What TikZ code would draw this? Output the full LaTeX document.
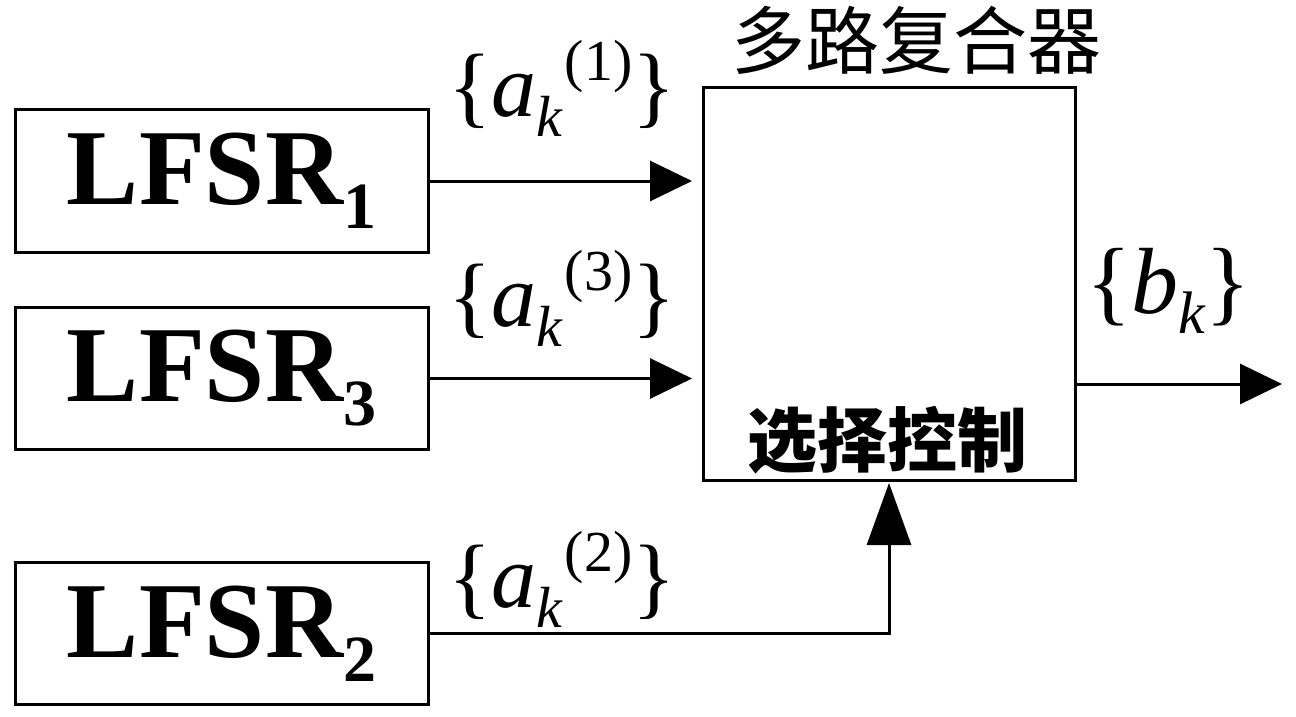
\documentclass[tikz,border=0pt]{standalone}
\usepackage{fontspec}
\setmainfont{Liberation Serif}
\newfontfamily\cjk{Noto Sans CJK SC}
\usetikzlibrary{arrows.meta}
\newcommand{\fs}[1]{\fontsize{#1}{#1}\selectfont}
\newcommand{\seqlabel}[1]{\fs{45pt}\{\textit{a}\raisebox{-10pt}{\fs{29pt}\textit{k}}\hspace{1pt}\raisebox{18pt}{\fs{29pt}(#1)}\}}
\begin{document}
\begin{tikzpicture}[x=0.5pt,y=-0.5pt,
  every node/.style={inner sep=0pt,outer sep=0pt},
  lfsr/.style={draw,line width=1.5pt,minimum width=206.5pt,minimum height=71pt,font=\fs{54pt}\bfseries},
  mux/.style={draw,line width=1.5pt,minimum width=186pt,minimum height=196pt},
  conn/.style={line width=1.5pt,-{Triangle[length=21pt,width=20pt]}},
  vconn/.style={line width=1.5pt,-{Triangle[length=31pt,width=22pt]}},
  lbl/.style={anchor=base west}]
\useasboundingbox (0,0) rectangle (1296,717);
\node[lfsr] (l1) at (221.5,181) {LFSR\raisebox{-12pt}{\fs{33pt}1}};
\node[lfsr] (l3) at (221.5,378.5) {LFSR\raisebox{-12pt}{\fs{33pt}3}};
\node[lfsr] (l2) at (221.5,633.5) {LFSR\raisebox{-12pt}{\fs{33pt}2}};
\node[mux] (mux) at (889,284) {};
\node (title) at (916,40) {\cjk\fs{37pt}多路复合器};
\node (sel) at (887,440) {\cjk\bfseries\fs{35pt}选择控制};
\coordinate (out) at (1282,384);
\draw[conn,shorten >=5.5pt] (l1.east) -- (l1.east -| mux.west);
\draw[conn,shorten >=5.5pt] (l3.east) -- (l3.east -| mux.west);
\draw[conn] (mux.east |- out) -- (out);
\draw[vconn,shorten >=1.5pt] (l2.east) -| (mux.south);
\node[lbl] (s1) at (448,117) {\seqlabel{1}};
\node[lbl] (s3) at (448,326) {\seqlabel{3}};
\node[lbl] (s2) at (448,607) {\seqlabel{2}};
\node[lbl] (sb) at (1086,313) {\fs{47pt}\{\textit{b}\raisebox{-10pt}{\fs{30pt}\textit{k}}\}};
\end{tikzpicture}
\end{document}
